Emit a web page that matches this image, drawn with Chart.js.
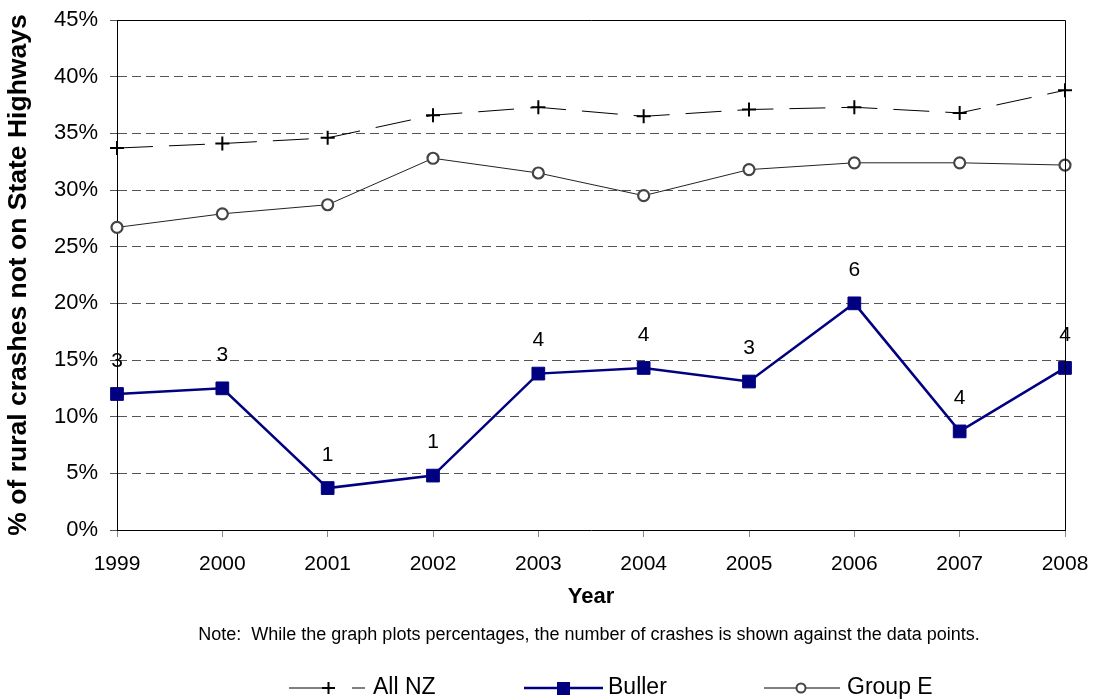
<!DOCTYPE html>
<html>
<head>
<meta charset="utf-8">
<script src="https://cdn.jsdelivr.net/npm/chart.js@4"></script>
<style>
  body { margin: 0; background: #fff; }
  #wrap { width: 1096px; height: 700px; position: relative; }
</style>
</head>
<body>
<div id="wrap"><canvas id="crashChart"></canvas></div>
<script>
const years = ["1999", "2000", "2001", "2002", "2003", "2004", "2005", "2006", "2007", "2008"];
const allNZ = [33.7, 34.1, 34.6, 36.6, 37.3, 36.5, 37.1, 37.3, 36.8, 38.8];
const buller = [12.0, 12.5, 3.7, 4.8, 13.8, 14.3, 13.1, 20.0, 8.7, 14.3];
const groupE = [26.7, 27.9, 28.7, 32.8, 31.5, 29.5, 31.8, 32.4, 32.4, 32.2];
// number of crashes shown against the Buller points
const bullerCounts = [3, 3, 1, 1, 4, 4, 3, 6, 4, 4];
const yTicks = [0, 5, 10, 15, 20, 25, 30, 35, 40, 45];

const FONT = "'Liberation Sans', Arial, sans-serif";
const NAVY = "#000080";

// numbers above the Buller points, a box round the plot, note and legend
const extras = {
    id: "extras",
    afterDatasetsDraw(chart) {
        const ctx = chart.ctx;
        const meta = chart.getDatasetMeta(1);
        ctx.save();
        ctx.fillStyle = "#000";
        ctx.font = "21px " + FONT;
        ctx.textAlign = "center";
        ctx.textBaseline = "middle";
        meta.data.forEach((pt, i) => {
            ctx.fillText(String(bullerCounts[i]), pt.x, pt.y - 33);
        });
        ctx.restore();
    },
    afterDraw(chart) {
        const ctx = chart.ctx;
        const a = chart.chartArea;
        ctx.save();
        ctx.strokeStyle = "#000";
        ctx.lineWidth = 1;
        ctx.beginPath();
        ctx.moveTo(a.left, a.top + 0.5);
        ctx.lineTo(a.right + 0.5, a.top + 0.5);
        ctx.lineTo(a.right + 0.5, a.bottom);
        ctx.stroke();

        ctx.fillStyle = "#000";
        ctx.textBaseline = "middle";
        ctx.textAlign = "center";
        ctx.font = "18px " + FONT;
        ctx.fillText("Note:  While the graph plots percentages, the number of crashes is shown against the data points.", 589, 635);

        // legend
        const ly = 688;
        ctx.textAlign = "left";
        ctx.font = "23px " + FONT;

        // All NZ
        ctx.strokeStyle = "#000";
        ctx.lineWidth = 1;
        ctx.beginPath();
        ctx.moveTo(289, ly); ctx.lineTo(322, ly);
        ctx.moveTo(352, ly); ctx.lineTo(365, ly);
        ctx.stroke();
        ctx.lineWidth = 2;
        ctx.beginPath();
        ctx.moveTo(322, ly); ctx.lineTo(335, ly);
        ctx.moveTo(328.5, ly - 6); ctx.lineTo(328.5, ly + 6);
        ctx.stroke();
        ctx.fillText("All NZ", 373, ly);

        // Buller
        ctx.strokeStyle = NAVY;
        ctx.lineWidth = 2.5;
        ctx.beginPath();
        ctx.moveTo(524, ly); ctx.lineTo(603, ly);
        ctx.stroke();
        ctx.fillStyle = NAVY;
        ctx.fillRect(557, ly - 6, 13, 13);
        ctx.fillStyle = "#000";
        ctx.fillText("Buller", 608, ly);

        // Group E
        ctx.strokeStyle = "#000";
        ctx.lineWidth = 1;
        ctx.beginPath();
        ctx.moveTo(764, ly); ctx.lineTo(840, ly);
        ctx.stroke();
        ctx.strokeStyle = "#444";
        ctx.lineWidth = 2;
        ctx.fillStyle = "#fff";
        ctx.beginPath();
        ctx.arc(801, ly, 4.5, 0, Math.PI * 2);
        ctx.fill();
        ctx.stroke();
        ctx.fillStyle = "#000";
        ctx.fillText("Group E", 847, ly);
        ctx.restore();
    }
};

new Chart(document.getElementById("crashChart"), {
    type: "line",
    data: {
        labels: years,
        datasets: [
            {
                label: "All NZ",
                data: allNZ,
                borderColor: "#000",
                borderWidth: 1,
                borderDash: [36, 16],
                pointStyle: "cross",
                pointRadius: 7,
                pointBorderWidth: 2,
                pointBorderColor: "#000",
                tension: 0
            },
            {
                label: "Buller",
                data: buller,
                borderColor: NAVY,
                borderWidth: 2.5,
                pointStyle: "rect",
                pointRadius: 9,
                pointBackgroundColor: NAVY,
                pointBorderColor: NAVY,
                pointBorderWidth: 1,
                tension: 0
            },
            {
                label: "Group E",
                data: groupE,
                borderColor: "#222",
                borderWidth: 1,
                pointStyle: "circle",
                pointRadius: 5.5,
                pointBorderWidth: 2.2,
                pointBorderColor: "#444",
                pointBackgroundColor: "#fff",
                tension: 0
            }
        ]
    },
    options: {
        responsive: true,
        maintainAspectRatio: false,
        animation: false,
        layout: { padding: { left: 0, right: 31, top: 20, bottom: 90 } },
        plugins: {
            legend: { display: false },
            tooltip: { enabled: false }
        },
        scales: {
            x: {
                grid: { drawOnChartArea: false, drawTicks: true, tickLength: 7, tickColor: "#888" },
                border: { color: "#000", width: 1 },
                ticks: { color: "#000", font: { family: FONT, size: 21 }, padding: 15, maxRotation: 0 },
                title: { display: true, text: "Year", color: "#000", font: { family: FONT, size: 22, weight: "bold" }, padding: { top: 4, bottom: 0 } },
                afterFit(scale) {
                    scale.height = 80;
                    scale.paddingLeft = 0;
                    scale.paddingRight = 0;
                }
            },
            y: {
                min: 0,
                max: 45,
                afterBuildTicks(scale) { scale.ticks = yTicks.map(v => ({ value: v })); },
                grid: { color: "#555", tickLength: 7, tickColor: "#555" },
                border: { color: "#000", width: 1, dash: [9, 5] },
                ticks: {
                    color: "#000",
                    font: { family: FONT, size: 22 },
                    padding: 12,
                    callback: v => v + "%"
                },
                title: {
                    display: true,
                    text: "% of rural crashes not on State Highways",
                    color: "#000",
                    font: { family: FONT, size: 26.5, weight: "bold" },
                    padding: { top: 3, bottom: 0 }
                },
                afterFit(scale) {
                    scale.width = 117;
                    scale.paddingTop = 0;
                    scale.paddingBottom = 0;
                }
            }
        }
    },
    plugins: [extras]
});
</script>
</body>
</html>
